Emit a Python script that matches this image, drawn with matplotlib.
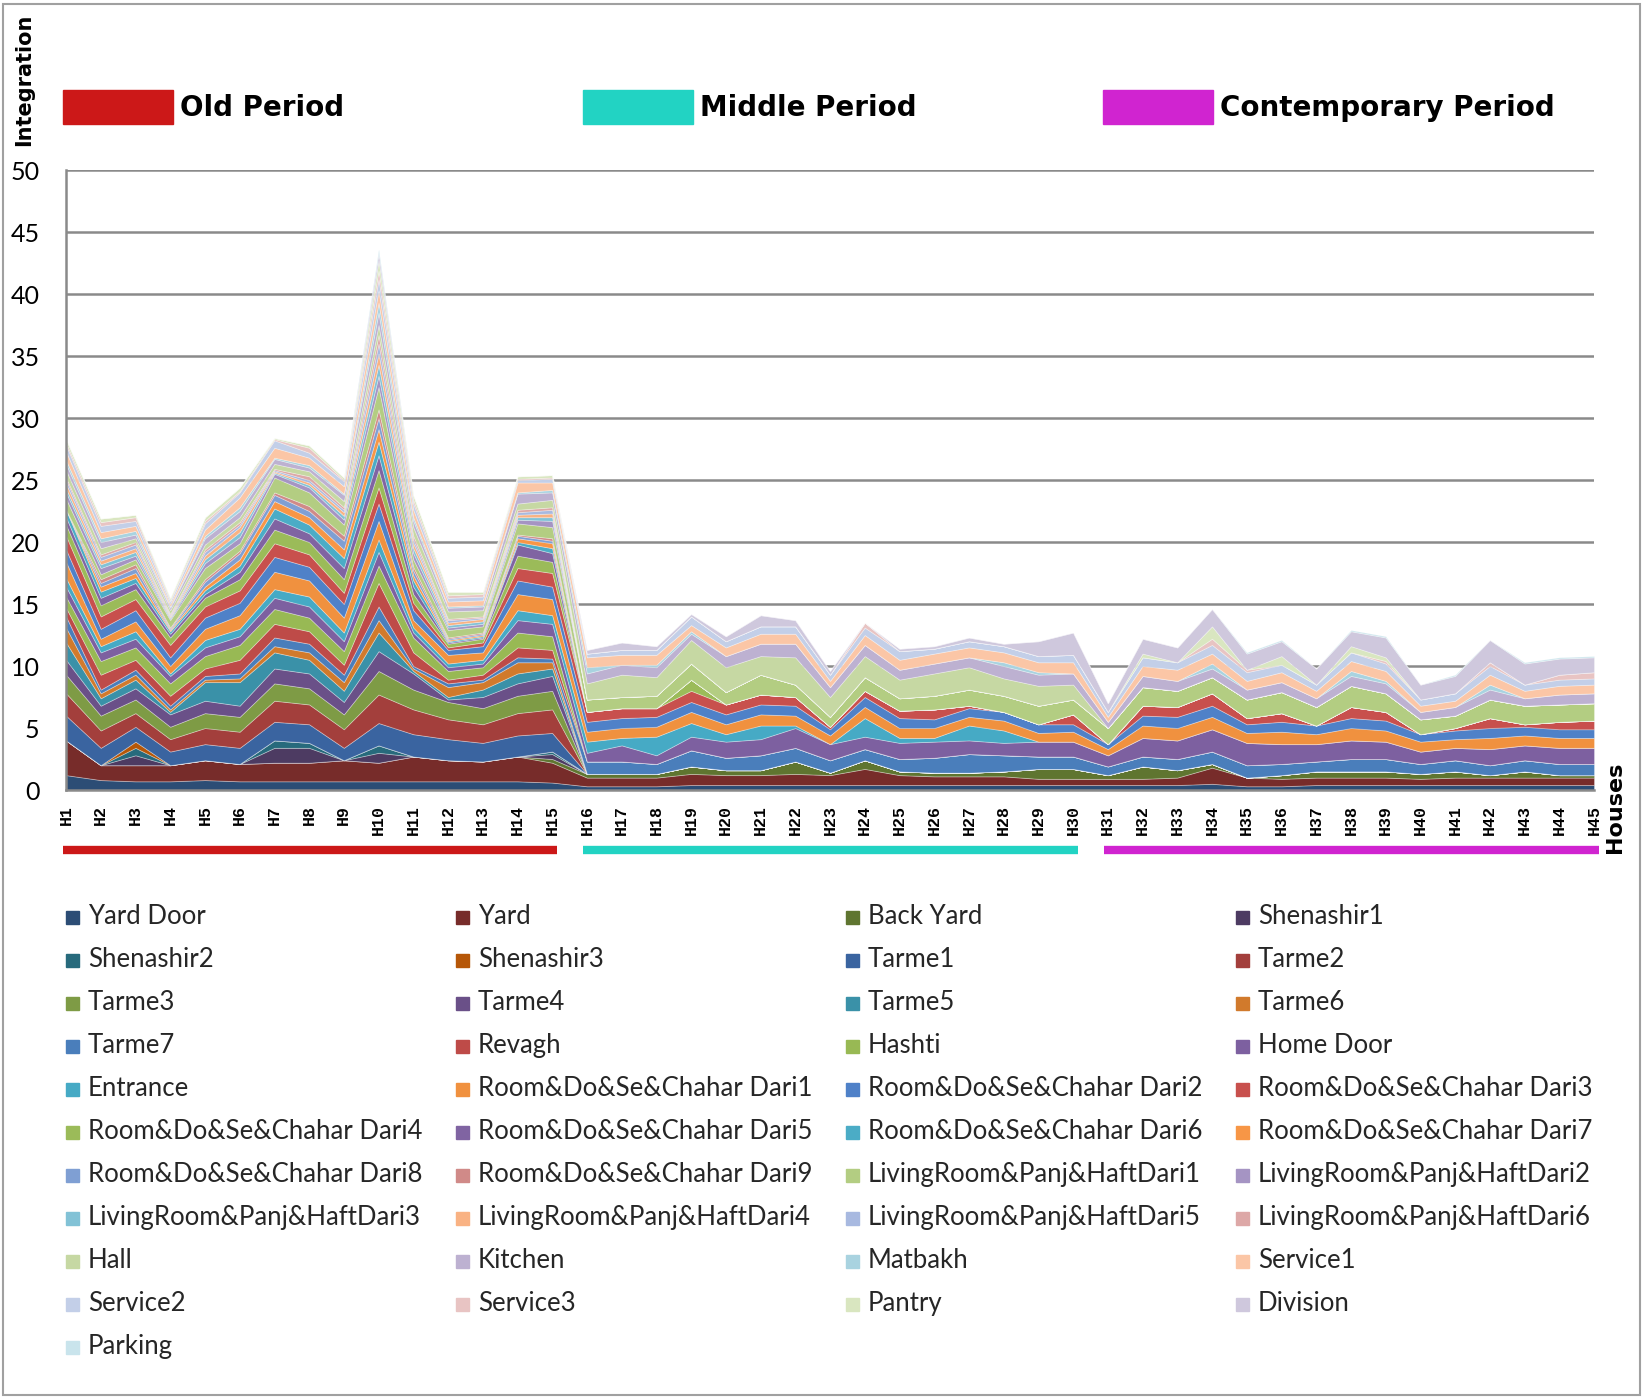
import matplotlib
matplotlib.use("Agg")
import matplotlib.pyplot as plt
from matplotlib.patches import Rectangle
import matplotlib.transforms as mtransforms

houses = ["H%d" % i for i in range(1, 46)]

# integration values per space type, H1..H15 | H16..H30 | H31..H45
yard_door = [1.2, .8, .7, .7, .8, .7, .7, .7, .7, .7, .7, .7, .7, .7, .6,
             .3, .3, .3, .4, .4, .4, .4, .4, .4, .4, .4, .4, .4, .4, .4,
             .4, .4, .4, .5, .3, .3, .4, .4, .4, .4, .4, .4, .4, .4, .4]
yard = [2.8, 1.2, 1.3, 1.3, 1.6, 1.4, 1.5, 1.5, 1.7, 1.5, 2.0, 1.7, 1.6, 2.0, 1.6,
        .7, .7, .7, .9, .8, .8, .9, .8, 1.3, .8, .7, .7, .7, .5, .5,
        .5, .5, .6, 1.3, .7, .6, .6, .6, .6, .5, .6, .6, .6, .6, .6]
back_yard = [0, 0, 0, 0, 0, 0, 0, 0, 0, 0, 0, 0, 0, 0, .3,
             .3, .3, .3, .6, .4, .4, 1.0, .2, .7, .3, .3, .3, .4, .8, .8,
             .3, 1.0, .6, .3, 0, .3, .5, .5, .5, .4, .5, .2, .5, .2, .2]
shenashir1 = [0, 0, .8, 0, 0, 0, 1.2, 1.2, 0, .8, 0, 0, 0, 0, .4,
              0, 0, 0, 0, 0, 0, 0, 0, 0, 0, 0, 0, 0, 0, 0,
              0, 0, 0, 0, 0, 0, 0, 0, 0, 0, 0, 0, 0, 0, 0]
shenashir2 = [0, 0, .6, 0, 0, 0, .6, .4, 0, .6, 0, 0, 0, 0, .2,
              0, 0, 0, 0, 0, 0, 0, 0, 0, 0, 0, 0, 0, 0, 0,
              0, 0, 0, 0, 0, 0, 0, 0, 0, 0, 0, 0, 0, 0, 0]
shenashir3 = [0, 0, .5, 0, 0, 0, 0, 0, 0, 0, 0, 0, 0, 0, 0,
              0, 0, 0, 0, 0, 0, 0, 0, 0, 0, 0, 0, 0, 0, 0,
              0, 0, 0, 0, 0, 0, 0, 0, 0, 0, 0, 0, 0, 0, 0]
tarme1 = [2.0, 1.4, 1.2, 1.1, 1.3, 1.3, 1.5, 1.5, 1.0, 1.8, 1.8, 1.7, 1.5, 1.7, 1.5,
          0, 0, 0, 0, 0, 0, 0, 0, 0, 0, 0, 0, 0, 0, 0,
          0, 0, 0, 0, 0, 0, 0, 0, 0, 0, 0, 0, 0, 0, 0]
tarme2 = [1.8, 1.4, 1.1, 1.0, 1.3, 1.3, 1.7, 1.6, 1.5, 2.3, 2.0, 1.6, 1.5, 1.8, 1.9,
          0, 0, 0, 0, 0, 0, 0, 0, 0, 0, 0, 0, 0, 0, 0,
          0, 0, 0, 0, 0, 0, 0, 0, 0, 0, 0, 0, 0, 0, 0]
tarme3 = [1.5, 1.2, 1.1, 1.0, 1.2, 1.2, 1.4, 1.3, 1.2, 1.9, 1.6, 1.4, 1.3, 1.4, 1.5,
          0, 0, 0, 0, 0, 0, 0, 0, 0, 0, 0, 0, 0, 0, 0,
          0, 0, 0, 0, 0, 0, 0, 0, 0, 0, 0, 0, 0, 0, 0]
tarme4 = [1.2, .8, .9, 1.0, 1.0, .9, 1.2, 1.2, 1.0, 1.6, 1.3, .2, .9, 1.0, 1.2,
          0, 0, 0, 0, 0, 0, 0, 0, 0, 0, 0, 0, 0, 0, 0,
          0, 0, 0, 0, 0, 0, 0, 0, 0, 0, 0, 0, 0, 0, 0]
tarme5 = [1.4, .6, .7, .2, 1.5, 1.9, 1.3, 1.1, .9, 1.5, .2, .2, .6, .8, .6,
          0, 0, 0, 0, 0, 0, 0, 0, 0, 0, 0, 0, 0, 0, 0,
          0, 0, 0, 0, 0, 0, 0, 0, 0, 0, 0, 0, 0, 0, 0]
tarme6 = [1.2, .4, .4, .2, .2, .3, .5, .6, .7, 1.0, .2, .8, .6, .9, .5,
          0, 0, 0, 0, 0, 0, 0, 0, 0, 0, 0, 0, 0, 0, 0,
          0, 0, 0, 0, 0, 0, 0, 0, 0, 0, 0, 0, 0, 0, 0]
tarme7 = [.9, .3, .4, .3, .3, .4, .7, .7, .6, 1.1, .2, .3, .2, .4, .3,
          1.0, 1.0, .8, 1.3, 1.0, 1.2, 1.1, 1.0, .9, 1.0, 1.2, 1.5, 1.3, 1.0, 1.0,
          .7, .8, .9, 1.0, 1.0, .9, .8, 1.0, 1.0, .8, .9, .8, .9, .9, .9]
revagh = [.7, 1.2, .8, .8, .6, 1.1, 1.1, 1.0, .8, 1.9, 1.1, .3, .4, .8, .7,
          0, 0, 0, 0, 0, 0, 0, 0, 0, 0, 0, 0, 0, 0, 0,
          0, 0, 0, 0, 0, 0, 0, 0, 0, 0, 0, 0, 0, 0, 0]
hashti = [.9, 1.1, 1.0, 1.0, 1.0, 1.2, 1.2, 1.1, 1.1, 1.4, 1.2, .7, .6, 1.2, 1.1,
          0, 0, 0, 0, 0, 0, 0, 0, 0, 0, 0, 0, 0, 0, 0,
          0, 0, 0, 0, 0, 0, 0, 0, 0, 0, 0, 0, 0, 0, 0]
home_door = [.8, .7, .7, .6, .7, .7, .9, .9, .8, 1.1, .4, .3, .3, 1.0, 1.0,
             .7, 1.3, .7, 1.1, 1.3, 1.3, 1.6, 1.3, 1.0, 1.3, 1.3, 1.1, 1.0, 1.2, 1.2,
             .9, 1.5, 1.5, 1.8, 1.8, 1.6, 1.4, 1.5, 1.4, 1.0, 1.0, 1.3, 1.2, 1.3, 1.3]
entrance = [.7, .5, .6, .2, .6, .6, .7, .8, .7, 1.0, .4, .3, .3, .8, .7,
            .9, .6, 1.5, 1.1, .6, 1.1, .2, 0, 1.5, .4, .3, 1.2, 1.0, 0, 0,
            0, 0, 0, 0, 0, 0, 0, 0, 0, 0, 0, 0, 0, 0, 0]
dari1 = [1.3, .6, .8, .6, .9, 1.1, 1.4, 1.3, 1.2, 1.5, .6, .7, .6, 1.3, 1.3,
         .8, .8, .8, .9, .8, .9, .8, .7, .9, .8, .8, .7, .8, .7, .8,
         .5, 1.0, 1.0, 1.0, .8, 1.0, .8, 1.0, .9, .8, .7, .9, .8, .8, .8]
dari2 = [1.0, .8, .9, .7, .9, 1.0, 1.2, 1.1, 1.1, 1.4, .8, .4, .5, 1.1, 1.0,
         .8, .8, .8, .8, .8, .8, .8, .5, .8, .8, .7, .7, .7, .7, .6,
         .4, .8, .9, .9, .7, .8, .7, .8, .8, .6, .7, .8, .7, .7, .7]
dari3 = [1.1, 1.0, .9, 1.0, .9, 1.0, 1.1, 1.0, .9, 1.3, .6, .2, .3, 1.0, 1.1,
         .8, .8, .7, .9, .8, .8, .7, .2, .5, .6, .8, .2, 0, 0, .8,
         0, .8, .8, 1.0, .5, .7, 0, .9, .7, 0, .2, .8, .2, .6, .7]
dari4 = [.9, .9, .8, .6, .7, .9, 1.1, 1.0, 1.1, 1.4, .7, .3, .3, 1.0, .9,
         0, 0, 0, .9, 0, 0, 0, 0, 0, 0, 0, 0, 0, 0, 0,
         0, 0, 0, 0, 0, 0, 0, 0, 0, 0, 0, 0, 0, 0, 0]
dari5 = [.6, .6, .5, .3, .3, .6, .9, .7, .9, 1.2, .6, .1, .1, .9, .7,
         0, 0, 0, 0, 0, 0, 0, 0, 0, 0, 0, 0, 0, 0, 0,
         0, 0, 0, 0, 0, 0, 0, 0, 0, 0, 0, 0, 0, 0, 0]
dari6 = [.6, .5, .4, .2, .3, .5, .8, .7, .8, 1.1, .5, .1, .1, .2, .4,
         0, 0, 0, 0, 0, 0, 0, 0, 0, 0, 0, 0, 0, 0, 0,
         0, 0, 0, 0, 0, 0, 0, 0, 0, 0, 0, 0, 0, 0, 0]
dari7 = [0, .4, .4, .1, .3, .5, .6, .6, .7, 1.0, .4, .1, .1, .3, .4,
         0, 0, 0, 0, 0, 0, 0, 0, 0, 0, 0, 0, 0, 0, 0,
         0, 0, 0, 0, 0, 0, 0, 0, 0, 0, 0, 0, 0, 0, 0]
dari8 = [0, .3, .4, .1, .4, .5, .5, .5, .7, .9, .4, .1, .1, .2, .2,
         0, 0, 0, 0, 0, 0, 0, 0, 0, 0, 0, 0, 0, 0, 0,
         0, 0, 0, 0, 0, 0, 0, 0, 0, 0, 0, 0, 0, 0, 0]
dari9 = [0, .3, .3, .1, .2, .2, .2, .4, .4, .7, .3, .1, .1, .1, .2,
         0, 0, 0, 0, 0, 0, 0, 0, 0, 0, 0, 0, 0, 0, 0,
         0, 0, 0, 0, 0, 0, 0, 0, 0, 0, 0, 0, 0, 0, 0]
living1 = [.9, .4, .4, .6, .9, .6, 1.2, 1.1, .9, 1.8, .6, .6, .5, .9, .9,
           1.0, .9, 1.0, 1.3, 1.0, 1.6, 1.0, .8, 1.1, 1.0, 1.1, 1.3, 1.3, 1.5, 1.2,
           1.3, 1.5, 1.3, 1.3, 1.5, 1.7, 1.5, 1.7, 1.5, 1.2, 1.0, 1.5, 1.5, 1.4, 1.4]
living2 = [.5, .5, .3, .1, .4, .5, .3, .4, .4, .9, .5, .2, .2, .3, .5,
           0, 0, 0, 0, 0, 0, 0, 0, 0, 0, 0, 0, 0, 0, 0,
           0, 0, 0, 0, 0, 0, 0, 0, 0, 0, 0, 0, 0, 0, 0]
living3 = [.3, .3, .3, .1, .3, .4, .1, .2, .3, .9, .4, .2, .2, .2, .3,
           0, 0, 0, 0, 0, 0, 0, 0, 0, 0, 0, 0, 0, 0, 0,
           0, 0, 0, 0, 0, 0, 0, 0, 0, 0, 0, 0, 0, 0, 0]
living4 = [.4, .3, .3, .1, .3, .4, .1, .2, .3, .9, .4, .2, .2, .2, .3,
           0, 0, 0, 0, 0, 0, 0, 0, 0, 0, 0, 0, 0, 0, 0,
           0, 0, 0, 0, 0, 0, 0, 0, 0, 0, 0, 0, 0, 0, 0]
living5 = [.3, .3, .3, .1, .3, .2, .1, .2, .2, .8, .3, .2, .1, .2, .3,
           0, 0, 0, 0, 0, 0, 0, 0, 0, 0, 0, 0, 0, 0, 0,
           0, 0, 0, 0, 0, 0, 0, 0, 0, 0, 0, 0, 0, 0, 0]
living6 = [.2, .2, .2, .1, .2, .2, .1, .3, .2, .7, .3, .1, .1, .2, .2,
           0, 0, 0, 0, 0, 0, 0, 0, 0, 0, 0, 0, 0, 0, 0,
           0, 0, 0, 0, 0, 0, 0, 0, 0, 0, 0, 0, 0, 0, 0]
hall = [.6, .5, .3, .3, .4, .4, .4, .4, .5, .8, .7, .6, .5, .5, .6,
        1.3, 1.8, 1.5, 1.9, 2.0, 1.5, 2.2, 1.6, 1.7, 1.5, 1.8, 1.8, 1.4, 1.6, 1.2,
        0, 0, 0, 0, 0, 0, 0, 0, 0, 0, 0, 0, 0, 0, 0]
kitchen = [.5, .5, .3, .2, .5, .5, .4, .3, .5, 1.0, .5, .3, .3, .8, .6,
           .8, .8, .8, .5, .9, 1.0, 1.1, .8, .9, .8, .8, .8, 1.0, .9, .9,
           .5, .9, .8, .7, .8, .8, .7, .8, .8, .6, .7, .8, .6, .8, .8]
matbakh = [.3, .3, .3, .1, .2, .3, .1, .2, .1, .8, .3, .1, .1, .1, .2,
           .5, 0, .2, .2, 0, 0, 0, 0, 0, 0, 0, 0, .3, .2, 0,
           0, 0, 0, .4, 0, 0, 0, .4, .2, 0, 0, .4, 0, 0, 0]
service1 = [.7, .5, .4, .2, .5, .8, .8, .6, .6, 1.0, .6, .4, .4, .8, .6,
            .8, .8, .8, .5, .7, .8, .8, .5, .8, .8, .8, .8, .8, .8, .9,
            .4, .8, .9, .8, .7, .8, .6, .8, .8, .5, .5, .8, .6, .7, .7]
service2 = [.5, .5, .4, .2, .5, .4, .6, .4, .4, .9, .5, .3, .3, .2, .3,
            .3, .4, .4, .7, .5, .6, .6, .5, .6, .7, .4, .5, .5, .5, .6,
            .4, .7, .6, .7, .7, .6, .5, .7, .6, .5, .6, .7, .5, .5, .5]
service3 = [.2, .3, .3, .1, .2, .1, .1, .4, .1, .7, .3, .2, .2, .1, .1,
            0, 0, 0, 0, 0, 0, 0, 0, .4, 0, 0, 0, 0, 0, 0,
            0, 0, 0, .5, .2, 0, 0, 0, .2, 0, 0, .3, 0, .4, .5]
pantry = [.3, .3, .2, .2, .3, .3, .1, .2, .2, .8, .4, .3, .2, .2, .2,
          0, 0, 0, 0, 0, 0, 0, 0, 0, 0, 0, 0, 0, 0, 0,
          0, .3, 0, 1.0, 0, .7, 0, .5, .3, 0, 0, 0, 0, 0, 0]
division = [0, 0, 0, 0, 0, 0, 0, 0, 0, .6, 0, 0, 0, 0, 0,
            .3, .6, .3, .2, .4, .9, .5, .3, 0, .2, .2, .3, .2, 1.2, 1.8,
            .7, 1.2, 1.2, 1.4, 1.3, 1.2, 1.3, 1.2, 1.6, 1.2, 1.4, 1.8, 1.7, 1.3, 1.2]
parking = [0, 0, 0, 0, 0, 0, 0, 0, 0, .3, 0, 0, 0, 0, 0,
           0, 0, 0, 0, 0, 0, 0, 0, 0, 0, 0, 0, 0, 0, 0,
           0, 0, 0, 0, .1, .1, 0, .1, .1, 0, .1, 0, .1, .1, .1]

series_names = ["Yard Door", "Yard", "Back Yard", "Shenashir1", "Shenashir2", "Shenashir3",
                "Tarme1", "Tarme2", "Tarme3", "Tarme4", "Tarme5", "Tarme6", "Tarme7",
                "Revagh", "Hashti", "Home Door", "Entrance",
                "Room&Do&Se&Chahar Dari1", "Room&Do&Se&Chahar Dari2", "Room&Do&Se&Chahar Dari3",
                "Room&Do&Se&Chahar Dari4", "Room&Do&Se&Chahar Dari5", "Room&Do&Se&Chahar Dari6",
                "Room&Do&Se&Chahar Dari7", "Room&Do&Se&Chahar Dari8", "Room&Do&Se&Chahar Dari9",
                "LivingRoom&Panj&HaftDari1", "LivingRoom&Panj&HaftDari2", "LivingRoom&Panj&HaftDari3",
                "LivingRoom&Panj&HaftDari4", "LivingRoom&Panj&HaftDari5", "LivingRoom&Panj&HaftDari6",
                "Hall", "Kitchen", "Matbakh", "Service1", "Service2", "Service3",
                "Pantry", "Division", "Parking"]
series_values = [yard_door, yard, back_yard, shenashir1, shenashir2, shenashir3,
                 tarme1, tarme2, tarme3, tarme4, tarme5, tarme6, tarme7,
                 revagh, hashti, home_door, entrance,
                 dari1, dari2, dari3, dari4, dari5, dari6, dari7, dari8, dari9,
                 living1, living2, living3, living4, living5, living6,
                 hall, kitchen, matbakh, service1, service2, service3,
                 pantry, division, parking]
series_colors = ['#2C4D75', '#772C2A', '#5F7530', '#4D3B62', '#276A7C', '#B65708',
                 '#3A64A0', '#A33F3C', '#7E9B45', '#6A5088', '#3A91A8', '#D17A2C',
                 '#4A7EBB', '#BE4B48', '#98B954', '#7D60A0', '#46AAC5', '#F0913F',
                 '#4F81C8', '#C8504D', '#9BBB59', '#8064A2', '#4BACC6', '#F79646',
                 '#7F9FD3', '#D08A88', '#B3CD82', '#A594C3', '#82C2D6', '#F9B283',
                 '#A8B9E0', '#DDA8A7', '#C6D8A3', '#BDB1D1', '#A9D3E0', '#FBC6A6',
                 '#C3CFE8', '#E8C4C3', '#D9E6C0', '#CFC8DD', '#C9E4EC']

periods = ["Old Period", "Middle Period", "Contemporary Period"]
period_colors = ['#CC1818', '#22D3C3', '#D024D0']
period_first = [0, 15, 30]   # index of first house in each period
period_last = [14, 29, 44]

W, H = 1652, 1399
fig = plt.figure(figsize=(W / 100, H / 100), dpi=100)

# outer frame
fig.add_artist(Rectangle((3 / W, 4 / H), 1637 / W, 1391 / H, transform=fig.transFigure,
                         fill=False, edgecolor='#a0a0a0', linewidth=1.5))

ax = fig.add_axes([66 / W, 1 - 790 / H, (1594 - 66) / W, (790 - 170) / H])
x = list(range(len(houses)))
ax.stackplot(x, *series_values, colors=series_colors, edgecolor=(1, 1, 1, 0.35), linewidth=0.6)

ax.set_xlim(0, len(houses) - 1)
ax.set_ylim(0, 50)
ax.set_yticks(range(0, 51, 5))
ax.yaxis.grid(True, color='#8a8a8a', linewidth=1.8)
ax.set_axisbelow(True)
for s in ['top', 'right']:
    ax.spines[s].set_visible(False)
for s in ['left', 'bottom']:
    ax.spines[s].set_color('#8a8a8a')
    ax.spines[s].set_linewidth(1.8)
ax.tick_params(axis='y', length=0, pad=19, labelsize=18)
for lab in ax.get_yticklabels():
    lab.set_fontfamily('Lato')
ax.set_xticks(x)
ax.set_xticklabels(houses, rotation=90, fontsize=12, fontfamily='Liberation Mono', fontweight='bold')
ax.tick_params(axis='x', length=0, pad=11)

# period bars under the house labels
trans = mtransforms.blended_transform_factory(ax.transData, ax.transAxes)
for first, last, col in zip(period_first, period_last, period_colors):
    ax.plot([first - 0.1, last + 0.15], [-0.097, -0.097], color=col, linewidth=6,
            solid_capstyle='butt', transform=trans, clip_on=False)

# period key at the top
key_x = [63, 583, 1103]
for name, col, kx in zip(periods, period_colors, key_x):
    fig.add_artist(Rectangle((kx / W, 1 - 124 / H), 110 / W, 34 / H,
                             transform=fig.transFigure, color=col))
    fig.text((kx + 117) / W, 1 - 108 / H, name, fontsize=20, fontweight='bold',
             va='center', ha='left', family='DejaVu Sans')

fig.text(24 / W, 1 - 80 / H, "Integration", rotation=90, fontsize=15, fontweight='bold',
         ha='center', va='center', family='DejaVu Sans')
fig.text(1615 / W, 1 - 807 / H, "Houses", rotation=90, fontsize=16, fontweight='bold',
         ha='center', va='center', family='DejaVu Sans')

# legend, filled row by row in four columns
col_x = [66, 456, 846, 1236]
for i, (name, col) in enumerate(zip(series_names, series_colors)):
    r, c = divmod(i, 4)
    yc = 916.5 + r * 43
    fig.add_artist(Rectangle((col_x[c] / W, 1 - (yc + 7) / H), 13 / W, 13 / H,
                             transform=fig.transFigure, color=col))
    fig.text((col_x[c] + 22) / W, 1 - yc / H, name, fontsize=18.5, va='center', ha='left',
             family='Lato', color='#262626')

fig.savefig("out.png", dpi=100)
